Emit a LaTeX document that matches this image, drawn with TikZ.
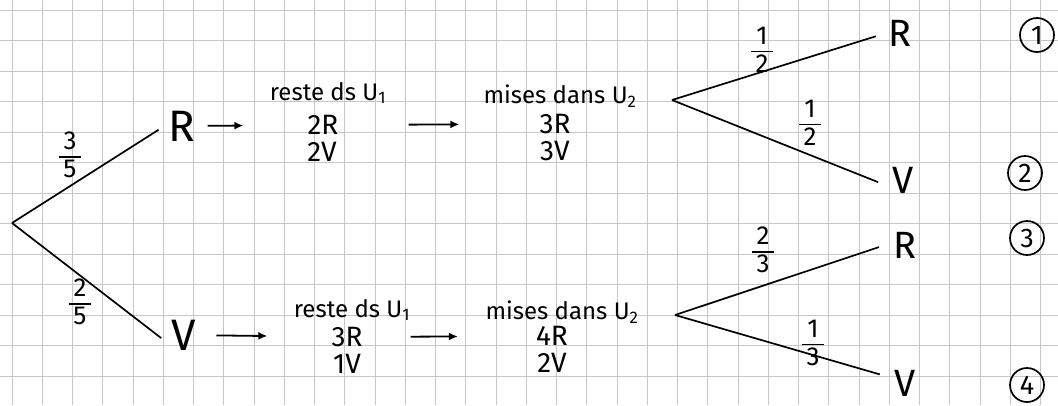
\documentclass[tikz,border=0pt]{standalone}
\usepackage{fontspec}
\setmainfont{Fira Sans}
\usetikzlibrary{arrows.meta}
\newcommand{\hfr}[2]{\setlength{\arrayrulewidth}{1.5pt}\renewcommand{\arraystretch}{0.8}\begin{tabular}{@{\,}c@{\,}}#1\\\hline\rule{0pt}{20pt}#2\end{tabular}}
\begin{document}
\begin{tikzpicture}[x=1pt,y=-1pt,
  gridline/.style={draw=black!22, line width=1pt},
  branch/.style={line width=1.7pt},
  flow/.style={-{Latex[length=9pt,width=8pt]}, line width=1.8pt},
  big/.style={font=\fontsize{44}{44}\selectfont, inner sep=4pt},
  leaf/.style={font=\fontsize{38}{38}\selectfont, inner sep=2pt},
  head/.style={font=\fontsize{24}{24}\selectfont, inner sep=1pt},
  count/.style={font=\fontsize{28}{28}\selectfont, inner sep=0pt},
  prob/.style={font=\fontsize{26}{26}\selectfont, inner sep=0pt},
  num/.style={draw, circle, line width=1.7pt, minimum size=34pt, inner sep=0pt, font=\fontsize{27}{27}\selectfont}]
\useasboundingbox (0,0) rectangle (1058,405);
\fill[white] (0,0) rectangle (1058,405);
\begin{scope}
\clip (0,0) rectangle (1058,405);
\foreach \k in {0,...,34} \draw[gridline] ({12+30.25*\k},0) -- ({12+30.25*\k},405);
\foreach \k in {0,...,12} \draw[gridline] (0,{10+30.5*\k}) -- (1058,{10+30.5*\k});
\end{scope}

% first level
\coordinate (O) at (12,223);
\node[big] (R1) at (182,126) {R};
\node[big] (V1) at (184,335) {V};
\draw[branch, shorten >=7pt] (O) -- (R1.west);
\draw[branch, shorten >=8pt] (O) -- ([yshift=-8pt]V1.west);
\node[prob] (p35) at (70,158) {\hfr{3}{5}};
\node[prob] (p25) at (80,305) {\hfr{2}{5}};

% top row
\node[head] (h1) at (328,93) {reste ds U\textsubscript{1}};
\node[count] (c1R) at (323,125) {2R};
\node[count] (c1V) at (322,152) {2V};
\node[head] (h2) at (560,96) {mises dans U\textsubscript{2}};
\node[count] (c2R) at (555,124) {3R};
\node[count] (c2V) at (555,151) {3V};
\draw[flow, shorten <=8pt, shorten >=64pt] (R1) -- (c1R);
\draw[flow, shorten <=70pt, shorten >=80pt] (c1R) -- (c2R);

% bottom row
\node[head] (h3) at (352,310) {reste ds U\textsubscript{1}};
\node[count] (c3R) at (347,337) {3R};
\node[count] (c3V) at (347,364) {1V};
\node[head] (h4) at (562,312) {mises dans U\textsubscript{2}};
\node[count] (c4R) at (552,336) {4R};
\node[count] (c4V) at (552,363) {2V};
\draw[flow, shorten <=16pt, shorten >=64pt] (V1) -- (c3R);
\draw[flow, shorten <=48pt, shorten >=78pt] (c3R) -- (c4R);

% top fork
\coordinate (F1) at (672,100);
\node[leaf] (L1) at (900,33) {R};
\node[leaf] (L2) at (903,180) {V};
\draw[branch, shorten >=11pt] (F1) -- (L1.west);
\draw[branch, shorten >=13pt] (F1) -- ([yshift=-7pt]L2.west);
\node[prob] (p12a) at (762,53) {\hfr{1}{2}};
\node[prob] (p12b) at (810,126) {\hfr{1}{2}};

% bottom fork
\coordinate (F2) at (675,315);
\node[leaf] (L3) at (905,245) {R};
\node[leaf] (L4) at (905,383) {V};
\draw[branch, shorten >=13pt] (F2) -- ([yshift=2pt]L3.west);
\draw[branch, shorten >=13pt] (F2) -- ([yshift=5pt]L4.west);
\node[prob] (p23) at (763,253) {\hfr{2}{3}};
\node[prob] (p13) at (813,346) {\hfr{1}{3}};

% circled numbers
\node[num] (n1) at (1037,35) {1};
\node[num] (n2) at (1025,173) {2};
\node[num] (n3) at (1027,238) {3};
\node[num] (n4) at (1027,385) {4};
\end{tikzpicture}
\end{document}
